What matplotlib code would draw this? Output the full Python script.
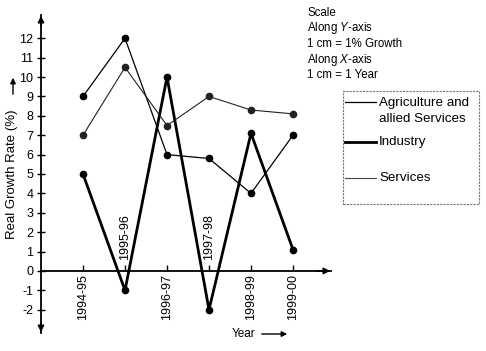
import matplotlib
matplotlib.use("Agg")
import matplotlib.pyplot as plt
from matplotlib.lines import Line2D
from matplotlib.patches import Rectangle, FancyArrowPatch

plt.rcParams['font.family'] = ['Liberation Sans', 'DejaVu Sans']
plt.rcParams['mathtext.fontset'] = 'custom'
plt.rcParams['mathtext.rm'] = 'Liberation Sans'
plt.rcParams['mathtext.it'] = 'Liberation Sans:italic'

years = ["1994-95", "1995-96", "1996-97", "1997-98", "1998-99", "1999-00"]
agriculture = [9, 12, 6, 5.8, 4, 7]
industry = [5, -1, 10, -2, 7.1, 1.1]
services = [7, 10.5, 7.5, 9, 8.3, 8.1]
labels_above = ["1995-96", "1997-98"]
yticks = list(range(-2, 13))

W, H = 486, 351
fig = plt.figure(figsize=(W / 100, H / 100), dpi=100)
ax = fig.add_axes([41 / W, 18 / H, 289.8 / W, 318 / H])
ax.set_xlim(-1, 5.9)
ax.set_ylim(-3.2, 13.2)

x = list(range(len(years)))
fs_tick = 9
ax.plot(x, agriculture, color='black', lw=0.9, marker='o', ms=4.5, zorder=3)
ax.plot(x, industry, color='black', lw=2.0, marker='o', ms=4.5, zorder=3)
ax.plot(x, services, color='#222222', lw=0.8, marker='o', ms=4.5, zorder=3)

for s in ['top', 'right']:
    ax.spines[s].set_visible(False)
ax.spines['bottom'].set_position(('data', 0))
ax.spines['left'].set_linewidth(1.3)
ax.spines['bottom'].set_linewidth(1.3)

ax.set_yticks(yticks)
ax.set_yticklabels([str(v) for v in yticks], fontsize=fs_tick)
ax.tick_params(axis='y', direction='inout', length=6, width=1, pad=2.5)
ax.set_xticks(x)
ax.set_xticklabels([''] * len(x))
ax.tick_params(axis='x', direction='in', length=4, width=1)

for xi, yl in zip(x, years):
    if yl in labels_above:
        ax.text(xi, 0.55, yl, rotation=90, ha='center', va='bottom', fontsize=fs_tick)
    else:
        ax.text(xi, -0.15, yl, rotation=90, ha='center', va='top', fontsize=fs_tick)

# axis arrows
ap = dict(arrowstyle='-|>', color='black', lw=1.2, mutation_scale=9)
ax.annotate('', xy=(-1, 13.3), xytext=(-1, 12.5), arrowprops=ap, annotation_clip=False)
ax.annotate('', xy=(-1, -3.3), xytext=(-1, -2.5), arrowprops=ap, annotation_clip=False)
ax.annotate('', xy=(5.95, 0), xytext=(5.5, 0), arrowprops=ap, annotation_clip=False)

# axis labels
fig.text(12 / W, 1 - 174 / H, "Real Growth Rate (%)", rotation=90, ha='center', va='center', fontsize=9.5)
fig.add_artist(FancyArrowPatch((13 / W, 1 - 97 / H), (13 / W, 1 - 75 / H),
               transform=fig.transFigure, arrowstyle='-|>', mutation_scale=8, color='black', lw=1))
fig.text(232 / W, 1 - 334 / H, "Year", ha='left', va='center', fontsize=8.5)
fig.add_artist(FancyArrowPatch((259 / W, 1 - 334 / H), (290 / W, 1 - 334 / H),
               transform=fig.transFigure, arrowstyle='-|>', mutation_scale=8, color='black', lw=1))

# scale note
scale_lines = ["Scale", "Along $\\mathit{Y}$-axis", "1 cm = 1% Growth", "Along $\\mathit{X}$-axis", "1 cm = 1 Year"]
for i, t in enumerate(scale_lines):
    fig.text(307 / W, 1 - (13 + 15.5 * i) / H, t, ha='left', va='center', fontsize=8.3)

# legend box
fig.add_artist(Rectangle((343 / W, 1 - 204 / H), 136 / W, 113 / H, transform=fig.transFigure,
                         fill=False, edgecolor='#777777', lw=0.8, ls=(0, (2, 1))))
leg = [("Agriculture and\nallied Services", 102, 0.9, '#000000', 111),
       ("Industry", 142, 2.0, '#000000', 142),
       ("Services", 178, 0.8, '#444444', 178)]
for lab, yl, lw, c, yt in leg:
    fig.add_artist(Line2D([345 / W, 376 / W], [1 - yl / H, 1 - yl / H], transform=fig.transFigure,
                          color=c, lw=lw))
    fig.text(379 / W, 1 - yt / H, lab, ha='left', va='center', fontsize=9.6, linespacing=1.4)

fig.savefig("out.png", dpi=100)
